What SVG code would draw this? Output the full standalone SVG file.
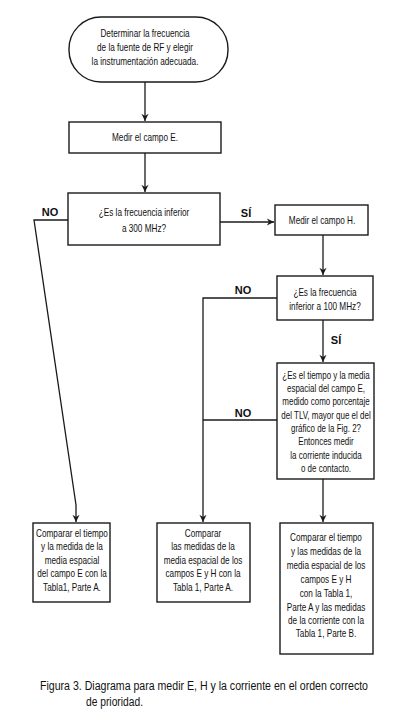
<svg xmlns="http://www.w3.org/2000/svg" width="417" height="721" viewBox="0 0 417 721">
<style>
.n rect{fill:#fff;stroke:#1a1a1a;stroke-width:1.4}
text{font-family:"Liberation Sans",Arial,sans-serif;font-size:10.5px;fill:#111;text-anchor:middle}
.lab{font-size:11px;font-weight:bold}
.cap{font-size:12px;text-anchor:start}
#connectors path{fill:none;stroke:#1a1a1a;stroke-width:1.3}
</style>
<defs>
<marker id="av" viewBox="0 0 10 14" refX="10" refY="7" markerWidth="14" markerHeight="10" markerUnits="userSpaceOnUse" orient="auto">
<path d="M0,2 L10,7 L0,12 L3,7 Z" fill="#1a1a1a"/>
</marker>
</defs>
<rect width="417" height="721" fill="#fff"/>
<g id="connectors">
<path d="M145,82 V121" marker-end="url(#av)"/>
<path d="M145,153 V192" marker-end="url(#av)"/>
<path d="M220,222 H274" marker-end="url(#av)"/>
<path d="M323,235 V275" marker-end="url(#av)"/>
<path d="M323,320 V362" marker-end="url(#av)"/>
<path d="M323,479 V522" marker-end="url(#av)"/>
<path d="M68,220 H34 L76,505 V522" marker-end="url(#av)"/>
<path d="M277,298 H203 V522" marker-end="url(#av)"/>
<path d="M277,420 H203"/>
<text class="lab" x="50" y="216">NO</text>
<text class="lab" x="246" y="217">SÍ</text>
<text class="lab" x="243" y="294">NO</text>
<text class="lab" x="336" y="344">SÍ</text>
<text class="lab" x="243" y="417">NO</text>
</g>
<g id="start" class="n">
<rect x="69" y="17" width="159" height="65" rx="32" ry="32"/>
<g transform="translate(145,0) scale(0.78,1)">
<text x="0" y="37">Determinar la frecuencia</text>
<text x="0" y="51">de la fuente de RF y elegir</text>
<text x="0" y="65">la instrumentación adecuada.</text>
</g>
</g>
<g id="medirE" class="n">
<rect x="69" y="122" width="152" height="31"/>
<g transform="translate(145,0) scale(0.78,1)">
<text x="0" y="141">Medir el campo E.</text>
</g>
</g>
<g id="q300" class="n">
<rect x="68" y="193" width="152" height="52"/>
<g transform="translate(144,0) scale(0.78,1)">
<text x="0" y="216">¿Es la frecuencia inferior</text>
<text x="0" y="232">a 300 MHz?</text>
</g>
</g>
<g id="medirH" class="n">
<rect x="275" y="205" width="93" height="30"/>
<g transform="translate(322,0) scale(0.78,1)">
<text x="0" y="224">Medir el campo H.</text>
</g>
</g>
<g id="q100" class="n">
<rect x="277" y="276" width="96" height="44"/>
<g transform="translate(325,0) scale(0.78,1)">
<text x="0" y="296">¿Es la frecuencia</text>
<text x="0" y="310">inferior a 100 MHz?</text>
</g>
</g>
<g id="qTLV" class="n">
<rect x="277" y="363" width="97" height="116"/>
<g transform="translate(326,0) scale(0.76,1)">
<text x="0" y="379">¿Es el tiempo y la media</text>
<text x="0" y="392">espacial del campo E,</text>
<text x="0" y="405">medido como porcentaje</text>
<text x="0" y="419">del TLV, mayor que el del</text>
<text x="0" y="432">gráfico de la Fig. 2?</text>
<text x="0" y="445">Entonces medir</text>
<text x="0" y="459">la corriente inducida</text>
<text x="0" y="472">o de contacto.</text>
</g>
</g>
<g id="compE" class="n">
<rect x="33" y="523" width="77" height="79"/>
<g transform="translate(72,0) scale(0.78,1)">
<text x="0" y="537">Comparar el tiempo</text>
<text x="0" y="550">y la medida de la</text>
<text x="0" y="564">media espacial</text>
<text x="0" y="577">del campo E con la</text>
<text x="0" y="591">Tabla1, Parte A.</text>
</g>
</g>
<g id="compEH" class="n">
<rect x="157" y="523" width="93" height="79"/>
<g transform="translate(203,0) scale(0.78,1)">
<text x="0" y="537">Comparar</text>
<text x="0" y="550">las medidas de la</text>
<text x="0" y="564">media espacial de los</text>
<text x="0" y="577">campos E y H con la</text>
<text x="0" y="591">Tabla 1, Parte A.</text>
</g>
</g>
<g id="compEHI" class="n">
<rect x="280" y="523" width="93" height="131"/>
<g transform="translate(326,0) scale(0.78,1)">
<text x="0" y="541">Comparar el tiempo</text>
<text x="0" y="555">y las medidas de la</text>
<text x="0" y="569">media espacial de los</text>
<text x="0" y="583">campos E y H</text>
<text x="0" y="597">con la Tabla 1,</text>
<text x="0" y="611">Parte A y las medidas</text>
<text x="0" y="624">de la corriente con la</text>
<text x="0" y="637">Tabla 1, Parte B.</text>
</g>
</g>
<g id="caption">
<text class="cap" x="40" y="690" textLength="328" lengthAdjust="spacingAndGlyphs">Figura 3. Diagrama para medir E, H y la corriente en el orden correcto</text>
<text class="cap" x="86" y="706" textLength="57" lengthAdjust="spacingAndGlyphs">de prioridad.</text>
</g>
</svg>
